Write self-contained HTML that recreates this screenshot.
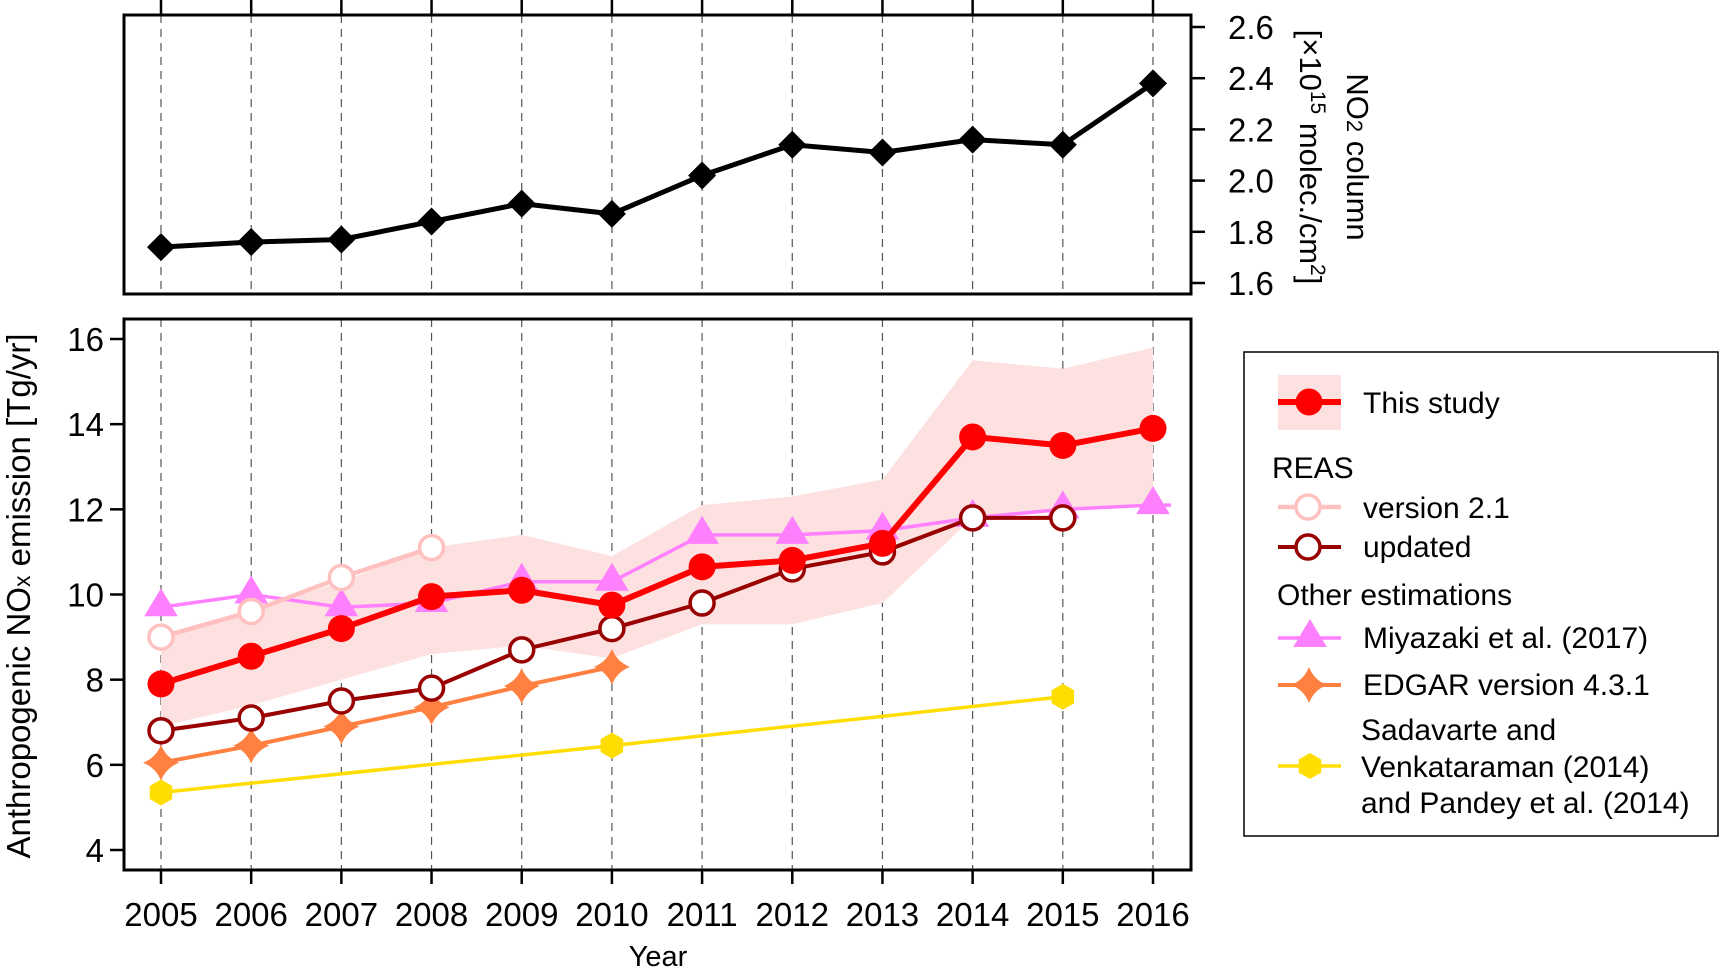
<!DOCTYPE html>
<html><head><meta charset="utf-8"><style>
html,body{margin:0;padding:0;background:#fff;}
svg{display:block;font-family:"Liberation Sans",sans-serif;}
</style></head><body>
<svg id="chart" width="1720" height="970" viewBox="0 0 1720 970" xmlns="http://www.w3.org/2000/svg">
<g id="topPanel"></g>
<g id="botPanel"></g>
<g id="legendPanel"></g>
</svg>
<script>
const years = [2005,2006,2007,2008,2009,2010,2011,2012,2013,2014,2015,2016];
const no2Column = [1.74,1.76,1.77,1.84,1.91,1.87,2.02,2.14,2.11,2.16,2.14,2.38];
const topTicks = [1.6,1.8,2.0,2.2,2.4,2.6];
const botTicks = [4,6,8,10,12,14,16];
const thisStudy = [7.9,8.55,9.2,9.95,10.1,9.75,10.65,10.8,11.2,13.7,13.5,13.9];
const bandUpper = [9.0,9.6,10.3,11.1,11.4,10.9,12.1,12.3,12.7,15.5,15.3,15.8];
const bandLower = [6.9,7.4,8.0,8.6,8.8,8.5,9.3,9.3,9.8,11.8,12.0,12.1];
const reasV21Years = [2005,2006,2007,2008];
const reasV21 = [9.0,9.6,10.4,11.1];
const reasUpdYears = [2005,2006,2007,2008,2009,2010,2011,2012,2013,2014,2015];
const reasUpd = [6.8,7.1,7.5,7.8,8.7,9.2,9.8,10.6,11.0,11.8,11.8];
const miyazaki = [9.7,10.0,9.7,9.8,10.3,10.3,11.4,11.4,11.5,11.8,12.0,12.1];
const edgarYears = [2005,2006,2007,2008,2009,2010];
const edgar = [6.05,6.45,6.9,7.35,7.85,8.3];
const sadYears = [2005,2010,2015];
const sad = [5.35,6.45,7.6];

const NS="http://www.w3.org/2000/svg";
function mk(parent,tag,attrs,text){const e=document.createElementNS(NS,tag);for(const k in attrs)e.setAttribute(k,attrs[k]);if(text!==undefined)e.textContent=text;parent.appendChild(e);return e;}
const X0=124,X1=1191;
const xs=y=>161+(y-2005)*(1153-161)/11;
const yTop=v=>283-(v-1.6)*(283-27)/1.0;
const yBot=v=>850-(v-4)*(850-339)/12;
const topG=document.getElementById('topPanel'),botG=document.getElementById('botPanel'),lgG=document.getElementById('legendPanel');

years.forEach(y=>{
 let l=mk(topG,'line',{x1:xs(y),x2:xs(y),y1:15,y2:294,stroke:'#555','stroke-width':1.2,'stroke-dasharray':'8,6'});
 
 
 let t=mk(topG,'line',{x1:xs(y),x2:xs(y),y1:0,y2:15,stroke:'#000','stroke-width':2.5});
 
 
 let l2=mk(botG,'line',{x1:xs(y),x2:xs(y),y1:319,y2:870,stroke:'#555','stroke-width':1.2,'stroke-dasharray':'8,6'});
 
 
 let t2=mk(botG,'line',{x1:xs(y),x2:xs(y),y1:870,y2:884,stroke:'#000','stroke-width':2.5});
 
 
 let tl=mk(botG,'text',{x:xs(y),y:926,'font-size':33,'text-anchor':'middle'},String(y));
 
 
});
let fr=mk(topG,'rect',{x:X0,y:15,width:X1-X0,height:279,fill:'none',stroke:'#000','stroke-width':3});


topTicks.forEach(v=>{
 let t=mk(topG,'line',{x1:X1,x2:X1+14,y1:yTop(v),y2:yTop(v),stroke:'#000','stroke-width':2.5});
 
 
 let tl=mk(topG,'text',{x:1228,y:yTop(v)+12,'font-size':33},v.toFixed(1));
 
 
});
let tt=mk(topG,'text',{transform:'translate(1300,157) rotate(90)','font-size':31,'text-anchor':'middle'});


tt.innerHTML='[×10<tspan font-size="21" dy="-11">15</tspan><tspan dy="11"> molec./cm</tspan><tspan font-size="21" dy="-11">2</tspan><tspan dy="11">]</tspan>';
let tt2=mk(topG,'text',{transform:'translate(1347,157) rotate(90)','font-size':31,'text-anchor':'middle'});


tt2.innerHTML='NO<tspan font-size="22">2</tspan> column';
let pl=mk(topG,'polyline',{points:years.map((y,i)=>xs(y)+','+yTop(no2Column[i])).join(' '),fill:'none',stroke:'#000','stroke-width':5});


years.forEach((y,i)=>{const cx=xs(y),cy=yTop(no2Column[i]),r=14;
 let d=mk(topG,'polygon',{points:`${cx},${cy-r} ${cx+r},${cy} ${cx},${cy+r} ${cx-r},${cy}`,fill:'#000'});
 
 
});

let band=mk(botG,'polygon',{points:years.map((y,i)=>xs(y)+','+yBot(bandUpper[i])).concat(years.slice().reverse().map((y,j)=>xs(y)+','+yBot(bandLower[years.length-1-j]))).join(' '),fill:'#fde0e0'});


let fr2=mk(botG,'rect',{x:X0,y:319,width:X1-X0,height:551,fill:'none',stroke:'#000','stroke-width':3});


botTicks.forEach(v=>{
 let t=mk(botG,'line',{x1:X0-14,x2:X0,y1:yBot(v),y2:yBot(v),stroke:'#000','stroke-width':2.5});
 
 
 let tl=mk(botG,'text',{x:X0-20,y:yBot(v)+12,'font-size':33,'text-anchor':'end'},String(v));
 
 
});
let yt=mk(botG,'text',{transform:'translate(30,596) rotate(-90)','font-size':33,'text-anchor':'middle'});


yt.innerHTML='Anthropogenic NO<tspan font-size="23">x</tspan> emission [Tg/yr]';
let xt=mk(botG,'text',{x:658,y:966,'font-size':29,'text-anchor':'middle'},'Year');



function drawLine(ys,vals,color,w,name,extra){
 let pts=ys.map((y,i)=>[xs(y),yBot(vals[i])]);
 if(extra) pts.push([xs(extra[0]),yBot(extra[1])]);
 let p=mk(botG,'polyline',{points:pts.map(p=>p.join(',')).join(' '),fill:'none',stroke:color,'stroke-width':w});
 
 
}
function star(g,cx,cy,r,fill){const a=r*0.28;return mk(g,'path',{d:`M${cx},${cy-r} Q${cx+a},${cy-a} ${cx+r},${cy} Q${cx+a},${cy+a} ${cx},${cy+r} Q${cx-a},${cy+a} ${cx-r},${cy} Q${cx-a},${cy-a} ${cx},${cy-r}Z`,fill:fill});}
function hex(g,cx,cy,r,fill){let p=[];for(let k=0;k<6;k++){const an=Math.PI/3*k+Math.PI/6;p.push((cx+r*Math.cos(an))+','+(cy+r*Math.sin(an)));}return mk(g,'polygon',{points:p.join(' '),fill:fill});}
function tri(g,cx,cy,r,fill){return mk(g,'polygon',{points:`${cx},${cy-r} ${cx+r*1.05},${cy+r*0.75} ${cx-r*1.05},${cy+r*0.75}`,fill:fill});}

drawLine(sadYears,sad,'#ffdd00',3.5,'sadavarte-line');
sadYears.forEach((y,i)=>{let m=hex(botG,xs(y),yBot(sad[i]),13,'#ffdd00');
 
 });
drawLine(edgarYears,edgar,'#ff8040',4,'edgar-line');
edgarYears.forEach((y,i)=>{let m=star(botG,xs(y),yBot(edgar[i]),18,'#ff8040');
 
 });
drawLine(years,miyazaki,'#ff80ff',3.5,'miyazaki-line',[2016.2,12.1]);
years.forEach((y,i)=>{let m=tri(botG,xs(y),yBot(miyazaki[i])-3,16,'#ff80ff');
 
 });
drawLine(reasV21Years,reasV21,'#ffc0c0',4.5,'reas-v21-line');
reasV21Years.forEach((y,i)=>{let m=mk(botG,'circle',{cx:xs(y),cy:yBot(reasV21[i]),r:12,fill:'#fff',stroke:'#ffc0c0','stroke-width':3.5});
 
 });
drawLine(reasUpdYears,reasUpd,'#990000',4,'reas-updated-line');
reasUpdYears.forEach((y,i)=>{let m=mk(botG,'circle',{cx:xs(y),cy:yBot(reasUpd[i]),r:12,fill:'#fff',stroke:'#990000','stroke-width':3.5});
 
 });
drawLine(years,thisStudy,'#ff0000',6,'this-study-line');
years.forEach((y,i)=>{let m=mk(botG,'circle',{cx:xs(y),cy:yBot(thisStudy[i]),r:13.5,fill:'#ff0000'});
 
 });

let lb=mk(lgG,'rect',{x:1244,y:352,width:474,height:484,fill:'#fff',stroke:'#000','stroke-width':1.5});


function ltext(x,y,s,name){let t=mk(lgG,'text',{x:x,y:y,'font-size':30},s);
 
 return t;}
function lline(y,color,w){let l=mk(lgG,'line',{x1:1278,x2:1341,y1:y,y2:y,stroke:color,'stroke-width':w});
 
 }
let ls=mk(lgG,'rect',{x:1278,y:375,width:63,height:55,fill:'#fde0e0'});


lline(402,'#ff0000',6);
let c1=mk(lgG,'circle',{cx:1309,cy:402,r:13.5,fill:'#ff0000'});


ltext(1363,413,'This study','legend-this-study');
ltext(1272,478,'REAS','legend-reas-heading');
lline(507,'#ffc0c0',4.5);
let c2=mk(lgG,'circle',{cx:1308,cy:507,r:12,fill:'#fff',stroke:'#ffc0c0','stroke-width':3.5});


ltext(1363,518,'version 2.1','legend-reas-v21');
lline(547,'#990000',4);
let c3=mk(lgG,'circle',{cx:1308,cy:547,r:12,fill:'#fff',stroke:'#990000','stroke-width':3.5});


ltext(1363,557,'updated','legend-reas-updated');
ltext(1277,605,'Other estimations','legend-other-heading');
lline(638,'#ff80ff',3.5);
let m1=tri(lgG,1310,635,16,'#ff80ff');


ltext(1363,648,'Miyazaki et al. (2017)','legend-miyazaki');
lline(685,'#ff8040',4);
let m2=star(lgG,1309,685,18,'#ff8040');


ltext(1363,695,'EDGAR version 4.3.1','legend-edgar');
lline(766,'#ffdd00',3.5);
let m3=hex(lgG,1310,766,13,'#ffdd00');


ltext(1361,740,'Sadavarte and','legend-sadavarte-1');
ltext(1361,777,'Venkataraman (2014)','legend-sadavarte-2');
ltext(1361,813,'and Pandey et al. (2014)','legend-sadavarte-3');
</script>
</body></html>
